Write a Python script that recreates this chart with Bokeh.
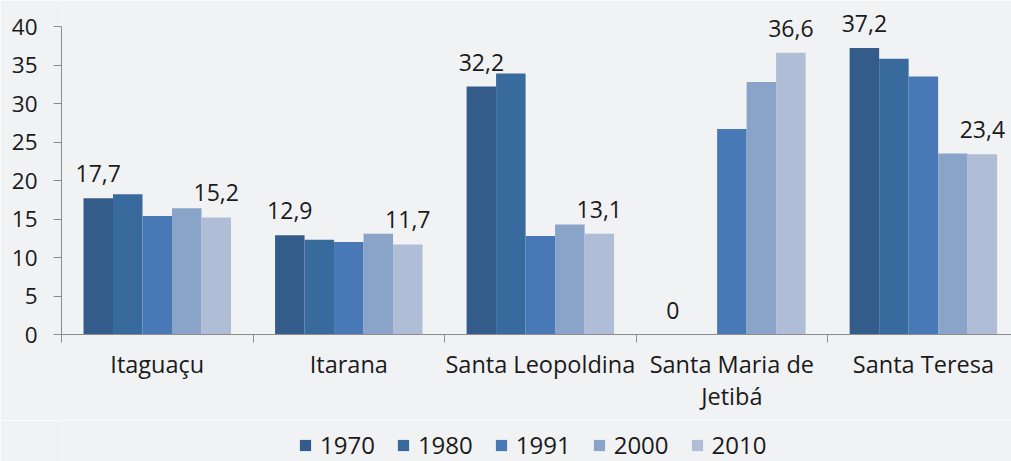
from bokeh.plotting import figure
from bokeh.layouts import column
from bokeh.models import ColumnDataSource, FixedTicker, Legend, LegendItem, LabelSet, Range1d
from bokeh.core.properties import value
from bokeh.embed import file_html
from bokeh.resources import INLINE

categories = ["Itaguaçu", "Itarana", "Santa Leopoldina", "Santa Maria de\nJetibá", "Santa Teresa"]
years = ["1970", "1980", "1991", "2000", "2010"]
v1970 = [17.7, 12.9, 32.2, 0.0, 37.2]
v1980 = [18.2, 12.3, 33.9, 0.0, 35.8]
v1991 = [15.4, 12.0, 12.8, 26.7, 33.5]
v2000 = [16.4, 13.1, 14.3, 32.8, 23.5]
v2010 = [15.2, 11.7, 13.1, 36.6, 23.4]
labelled_series = ["1970", "2010"]
y_ticks = [0, 5, 10, 15, 20, 25, 30, 35, 40]

series = [v1970, v1980, v1991, v2000, v2010]
colors = ["#345C8A", "#386A9E", "#4879B6", "#8AA3C8", "#B0BDD7"]
BG = "#F1F2F4"
AXIS = "#8C8C8C"
FONT = "Open Sans"
TXT = "#1a1a1a"

bar_w = 0.154
p = figure(width=1011, height=420, output_backend="svg", toolbar_location=None,
           x_range=Range1d(0, 4.96), y_range=Range1d(0, 43.38),
           min_border_left=61, min_border_top=0, min_border_bottom=86, min_border_right=0,
           background_fill_color=BG, border_fill_color=BG)
p.outline_line_color = None
p.xgrid.visible = False
p.ygrid.visible = False

for k, (yr, vals, col) in enumerate(zip(years, series, colors)):
    xs = [i + 0.5 + (k - 2) * bar_w for i in range(len(categories))]
    src = ColumnDataSource(dict(x=xs, top=vals,
                                lab=[("%.1f" % v).replace(".", ",") if v != 0 else "0" for v in vals]))
    p.vbar(x="x", top="top", width=bar_w, source=src, fill_color=col, line_color=None)
    if yr in labelled_series:
        ls = LabelSet(x="x", y="top", text="lab", source=src, y_offset=16,
                      text_align="center", text_baseline="alphabetic",
                      text_font=value(FONT), text_font_size="23px", text_color=TXT)
        p.add_layout(ls)

# y axis
p.yaxis.ticker = FixedTicker(ticks=y_ticks)
p.yaxis.bounds = (0, 40)
p.yaxis.axis_line_color = AXIS
p.yaxis.major_tick_line_color = AXIS
p.yaxis.major_tick_out = 8
p.yaxis.major_tick_in = 0
p.yaxis.minor_tick_line_color = None
p.yaxis.major_label_text_font = FONT
p.yaxis.major_label_text_font_size = "22.5px"
p.yaxis.major_label_text_color = TXT
p.yaxis.major_label_standoff = 16

# x axis
p.xaxis.ticker = FixedTicker(ticks=[i + 0.5 for i in range(len(categories))],
                             minor_ticks=list(range(len(categories) + 1)))
p.xaxis.major_label_overrides = {i + 0.5: c for i, c in enumerate(categories)}
p.xaxis.axis_line_color = AXIS
p.xaxis.major_tick_line_color = None
p.xaxis.minor_tick_line_color = AXIS
p.xaxis.minor_tick_out = 8
p.xaxis.minor_tick_in = 0
p.xaxis.major_label_text_font = FONT
p.xaxis.major_label_text_font_size = "23.5px"
p.xaxis.major_label_text_color = TXT
p.xaxis.major_label_text_line_height = 1.0
p.xaxis.major_label_standoff = 5

# legend strip
lg = figure(width=1011, height=41, output_backend="svg", toolbar_location=None,
            x_range=Range1d(0, 1), y_range=Range1d(0, 1),
            x_axis_location=None, y_axis_location=None,
            min_border=0, background_fill_color=BG, border_fill_color=BG)
lg.outline_line_color = None
lg.grid.visible = False
items = []
for yr, col in zip(years, colors):
    r = lg.vbar(x=[100], top=[0], bottom=[0], width=0.1, fill_color=col, line_color=None)
    items.append(LegendItem(label=yr, renderers=[r]))
legend = Legend(items=items, orientation="horizontal", location=(237, 0),
                background_fill_alpha=0, border_line_color=None,
                label_text_font=FONT, label_text_font_size="24px", label_text_color=TXT,
                glyph_width=14, glyph_height=14, label_standoff=8, spacing=21,
                margin=0, padding=0)
lg.add_layout(legend, "center")

open("out.html", "w").write(file_html(column(p, lg, spacing=0), INLINE))
